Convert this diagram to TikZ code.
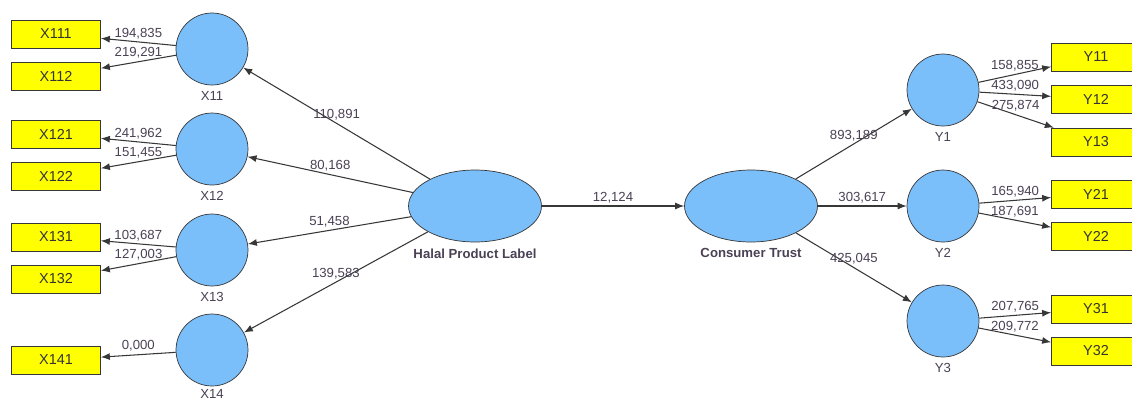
\documentclass[tikz,border=0pt]{standalone}
\usepackage{fontspec}
\setmainfont{Liberation Sans}
\usetikzlibrary{shapes.geometric,arrows.meta}
\definecolor{lvfill}{RGB}{122,190,250}
\definecolor{mvfill}{RGB}{255,255,0}
\definecolor{edgegray}{RGB}{55,55,55}
\definecolor{txtgray}{RGB}{75,65,85}

\begin{document}
\begin{tikzpicture}[x=0.02cm,y=-0.02cm,
    txt/.style={font=\fontsize{7.5}{9}\selectfont,text=txtgray},
    lv/.style={circle,draw=edgegray,fill=lvfill,minimum size=1.44cm,inner sep=0pt,label distance=0pt},
    lvbig/.style={ellipse,draw=edgegray,fill=lvfill,minimum width=2.66cm,minimum height=1.44cm,inner sep=0pt,label distance=1pt},
    mv/.style={rectangle,draw=edgegray,fill=mvfill,minimum width=1.78cm,minimum height=0.56cm,inner sep=0pt,font=\fontsize{8.2}{10}\selectfont,text=black!80},
    wt/.style={txt,above,inner sep=1.5pt},
    link/.style={draw=edgegray,line width=0.6pt,-{Latex[length=1.8mm,width=1.4mm]}}]
        \clip (0,0) rectangle (1132,400);
        \fill[white] (0,0) rectangle (1132,400);
        \node[lvbig,label={[txt,font=\fontsize{7.5}{9}\selectfont\bfseries]below:Halal Product Label}] (hpl) at (475,206) {};
        \node[lvbig,label={[txt,font=\fontsize{7.5}{9}\selectfont\bfseries]below:Consumer Trust}] (ct) at (751,206) {};
        \node[lv,label={[txt]below:X11}] (x11) at (212,49) {};
        \node[lv,label={[txt]below:X12}] (x12) at (212,149) {};
        \node[lv,label={[txt]below:X13}] (x13) at (212,250) {};
        \node[lv,label={[txt,label distance=-2pt]below:X14}] (x14) at (212,350) {};
        \node[lv,label={[txt]below:Y1}] (y1) at (943,90) {};
        \node[lv,label={[txt]below:Y2}] (y2) at (943,206) {};
        \node[lv,label={[txt]below:Y3}] (y3) at (943,321) {};
        \node[mv] (x111) at (56,34) {X111};
        \node[mv] (x112) at (56,76) {X112};
        \node[mv] (x121) at (56,134) {X121};
        \node[mv] (x122) at (56,176) {X122};
        \node[mv] (x131) at (56,237) {X131};
        \node[mv] (x132) at (56,279) {X132};
        \node[mv] (x141) at (56,360) {X141};
        \node[mv] (y11) at (1096,57) {Y11};
        \node[mv] (y12) at (1096,99) {Y12};
        \node[mv] (y13) at (1096,142) {Y13};
        \node[mv] (y21) at (1096,194) {Y21};
        \node[mv] (y22) at (1096,236) {Y22};
        \node[mv] (y31) at (1096,309) {Y31};
        \node[mv] (y32) at (1096,351) {Y32};
        \draw[link] (hpl) -- node[wt] {110,891} (x11);
        \draw[link] (hpl) -- node[wt] {80,168} (x12);
        \draw[link] (hpl) -- node[wt] {51,458} (x13);
        \draw[link] (hpl) -- node[wt] {139,583} (x14);
        \draw[link] (hpl) -- node[wt] {12,124} (ct);
        \draw[link] (ct) -- node[wt] {893,189} (y1);
        \draw[link] (ct) -- node[wt] {303,617} (y2);
        \draw[link] (ct) -- node[wt] {425,045} (y3);
        \draw[link] (x11) -- node[wt] {194,835} (x111);
        \draw[link] (x11) -- node[wt] {219,291} (x112);
        \draw[link] (x12) -- node[wt] {241,962} (x121);
        \draw[link] (x12) -- node[wt] {151,455} (x122);
        \draw[link] (x13) -- node[wt] {103,687} (x131);
        \draw[link] (x13) -- node[wt] {127,003} (x132);
        \draw[link] (x14) -- node[wt] {0,000} (x141);
        \draw[link] (y1) -- node[wt] {158,855} (y11);
        \draw[link] (y1) -- node[wt] {433,090} (y12);
        \draw[link] (y1) -- node[wt] {275,874} (y13);
        \draw[link] (y2) -- node[wt] {165,940} (y21);
        \draw[link] (y2) -- node[wt] {187,691} (y22);
        \draw[link] (y3) -- node[wt] {207,765} (y31);
        \draw[link] (y3) -- node[wt] {209,772} (y32);
    \end{tikzpicture}
\end{document}
